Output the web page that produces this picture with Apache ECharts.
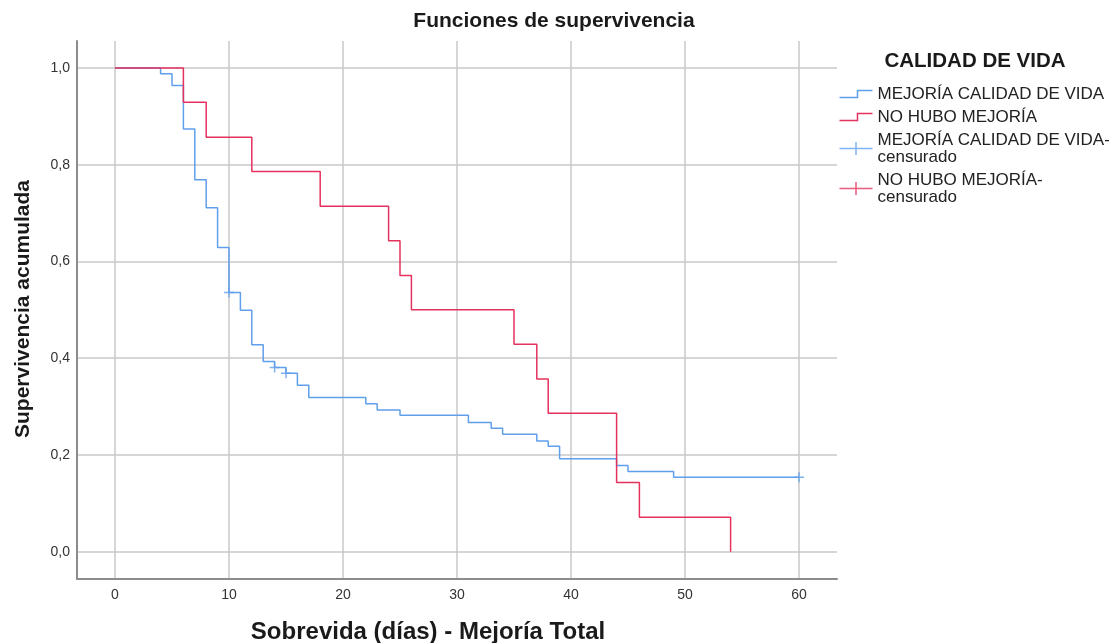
<!DOCTYPE html>
<html>
<head>
<meta charset="utf-8">
<script src="https://cdn.jsdelivr.net/npm/echarts@6/dist/echarts.min.js"></script>
<style>html,body{margin:0;padding:0;background:#fff}#c{width:1109px;height:643px}</style>
</head>
<body>
<div id="c"></div>
<script>
// ---- data ----
const seriesNames = [
  'MEJORÍA CALIDAD DE VIDA',
  'NO HUBO MEJORÍA',
  'MEJORÍA CALIDAD DE VIDA-\ncensurado',
  'NO HUBO MEJORÍA-\ncensurado'
];
const blueTimes = [0, 4, 5, 6, 7, 8, 9, 10, 11, 12, 13, 14, 15, 16, 17, 22, 23, 25, 31, 33, 34, 37, 38, 39, 44, 45, 49, 60];
const blueSurv  = [1.0, 0.988, 0.964, 0.874, 0.769, 0.711, 0.629, 0.536, 0.499, 0.428, 0.393, 0.381, 0.369, 0.344, 0.319, 0.306, 0.293, 0.282, 0.267, 0.255, 0.243, 0.229, 0.218, 0.192, 0.178, 0.166, 0.154, 0.154];
const redTimes  = [0, 6, 8, 12, 18, 24, 25, 26, 35, 37, 38, 44, 46, 54];
const redSurv   = [1.0, 0.929, 0.857, 0.786, 0.714, 0.643, 0.571, 0.5, 0.429, 0.357, 0.286, 0.143, 0.071, 0.0];
const blueCensorTimes = [10, 14, 15, 60];
const blueCensorSurv  = [0.536, 0.381, 0.369, 0.154];
const redCensorTimes = [];
const redCensorSurv  = [];
const xTicks = [0, 10, 20, 30, 40, 50, 60];
const yTicks = [0, 0.2, 0.4, 0.6, 0.8, 1.0];

const zip = (a, b) => a.map((v, i) => [v, b[i]]);
const BLUE = '#5f9fec';
const RED = '#e5315d';
const FONT = "'Liberation Sans', Arial, sans-serif";
const crossPath = 'path://M0,5L10,5M5,0L5,10';

const chart = echarts.init(document.getElementById('c'), null, {renderer: 'canvas'});
chart.setOption({
  animation: false,
  backgroundColor: '#fff',
  grid: {left: 77, right: 272, top: 41, bottom: 64, containLabel: false, outerBoundsMode: 'none'},
  xAxis: {
    type: 'value', min: -3.333, max: 63.333,
    axisLine: {show: true, onZero: false, lineStyle: {color: '#8c8c8c', width: 2}},
    axisTick: {show: false, customValues: xTicks},
    axisLabel: {customValues: xTicks, margin: 9, fontSize: 14, color: '#333', fontFamily: FONT},
    splitLine: {show: true, lineStyle: {color: '#c8c8c8', width: 1.5}}
  },
  yAxis: {
    type: 'value', min: -0.0564, max: 1.0558,
    axisLine: {show: true, onZero: false, lineStyle: {color: '#8c8c8c', width: 2}},
    axisTick: {show: false, customValues: yTicks},
    axisLabel: {customValues: yTicks, margin: 7, fontSize: 14, color: '#333', fontFamily: FONT,
      formatter: v => v.toFixed(1).replace('.', ',')},
    splitLine: {show: true, lineStyle: {color: '#c8c8c8', width: 1.5}}
  },
  legend: {
    orient: 'vertical', left: 837, top: 85.5, padding: 0,
    itemWidth: 33, itemHeight: 13, itemGap: 6,
    selectedMode: false,
    textStyle: {fontSize: 17, lineHeight: 17, color: '#222', fontFamily: FONT},
    data: [
      {name: seriesNames[0], icon: 'path://M0,7L18,7L18,0L33,0', itemStyle: {color: 'none', borderColor: BLUE, borderWidth: 1.5}},
      {name: seriesNames[1], icon: 'path://M0,7L18,7L18,0L33,0', itemStyle: {color: 'none', borderColor: RED, borderWidth: 1.5}},
      {name: seriesNames[2], icon: 'path://M0,6.5L33,6.5M16.5,0L16.5,13', itemStyle: {color: 'none', borderColor: BLUE, borderWidth: 1.5}},
      {name: seriesNames[3], icon: 'path://M0,6.5L33,6.5M16.5,0L16.5,13', itemStyle: {color: 'none', borderColor: RED, borderWidth: 1.5}}
    ]
  },
  graphic: [
    {type: 'text', x: 554, y: 21, style: {text: 'Funciones de supervivencia', font: 'bold 21px ' + FONT, fill: '#1a1a1a', align: 'center', verticalAlign: 'middle'}},
    {type: 'text', x: 975, y: 61, style: {text: 'CALIDAD DE VIDA', font: 'bold 20.5px ' + FONT, fill: '#1a1a1a', align: 'center', verticalAlign: 'middle'}},
    {type: 'text', x: 428, y: 632, style: {text: 'Sobrevida (días) - Mejoría Total', font: 'bold 24px ' + FONT, fill: '#1a1a1a', align: 'center', verticalAlign: 'middle'}},
    {type: 'text', x: 23, y: 309, rotation: Math.PI / 2, style: {text: 'Supervivencia acumulada', font: 'bold 21px ' + FONT, fill: '#1a1a1a', align: 'center', verticalAlign: 'middle'}}
  ],
  series: [
    {name: seriesNames[0], type: 'line', step: 'end', data: zip(blueTimes, blueSurv), showSymbol: false, symbol: 'none',
      lineStyle: {color: BLUE, width: 1.5}, itemStyle: {color: BLUE}, z: 2},
    {name: seriesNames[1], type: 'line', step: 'end', data: zip(redTimes, redSurv), showSymbol: false, symbol: 'none',
      lineStyle: {color: RED, width: 1.5}, itemStyle: {color: RED}, z: 3},
    {name: seriesNames[2], type: 'scatter', data: zip(blueCensorTimes, blueCensorSurv), symbol: crossPath, symbolSize: 10,
      itemStyle: {color: 'none', borderColor: BLUE, borderWidth: 1.5}, z: 4},
    {name: seriesNames[3], type: 'scatter', data: zip(redCensorTimes, redCensorSurv), symbol: crossPath, symbolSize: 10,
      itemStyle: {color: 'none', borderColor: RED, borderWidth: 1.5}, z: 4}
  ]
});
</script>
</body>
</html>
